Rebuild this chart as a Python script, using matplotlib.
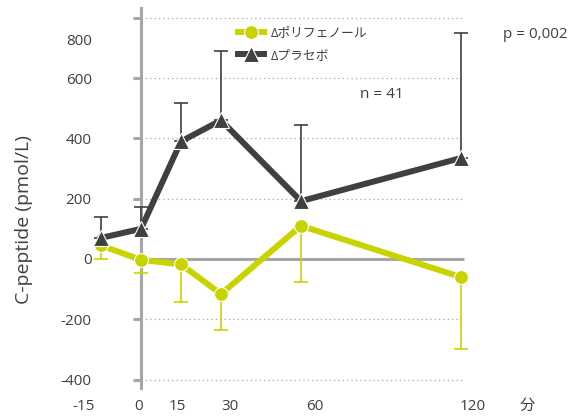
import matplotlib
matplotlib.use("Agg")
import matplotlib.pyplot as plt

plt.rcParams['font.family'] = ['Open Sans', 'Noto Sans CJK JP', 'DejaVu Sans']

# time points (minutes)
minutes = [-15, 0, 15, 30, 60, 120]

# Δ polyphenol: mean and lower error
poly_mean = [45, -3, -18, -116, 110, -60]
poly_err = [45, 42, 125, 119, 186, 238]

# Δ placebo: mean and upper error
plac_mean = [70, 100, 390, 460, 192, 335]
plac_err = [69, 72, 127, 230, 252, 415]

y_ticks = [-400, -200, 0, 200, 400, 600, 800]
x_labels = ['-15', '0', '15', '30', '60', '120', '分']
# label anchor positions (the original labels sit slightly off their values)
x_label_pos = [-21.4, -0.8, 13.6, 33.4, 65.3, 124.3, 144.8]

GREEN = '#c8d400'
DARK = '#404040'
GREY = '#a6a6a6'
TXT = '#404040'

fig = plt.figure(figsize=(5.68, 4.17), dpi=100)
W, H = 568, 417
# axes: x=0 at px 141, 2.667 px/min ; y=0 at px 259, 0.3015 px/unit
x0, x1 = -25, 150
y0, y1 = -440, 860
left = (141 + 2.667 * x0) / W
right = (141 + 2.667 * x1) / W
bottom = 1 - (259 - 0.3015 * y0) / H
top = 1 - (259 - 0.3015 * y1) / H
ax = fig.add_axes([left, bottom, right - left, top - bottom])
ax.set_xlim(x0, x1)
ax.set_ylim(y0, y1)

# grid lines and zero line
for v in y_ticks:
    if v == 0:
        ax.hlines(v, 0, 121, color=GREY, lw=2.2, zorder=1)
    else:
        ax.hlines(v, 0, 121, color=GREY, lw=0.9, linestyles=(0, (1, 2.5)), zorder=1)

# spines
for s in ['top', 'right', 'bottom']:
    ax.spines[s].set_visible(False)
ax.spines['left'].set_position(('data', 0))
ax.spines['left'].set_bounds(-427, 833)
ax.spines['left'].set_color(GREY)
ax.spines['left'].set_linewidth(2.2)
ax.spines['left'].set_zorder(1)

ax.set_yticks(y_ticks)
ax.set_yticklabels([str(v) if v != 800 else '' for v in y_ticks])
ax.tick_params(axis='y', length=6, width=2.2, color=GREY, pad=29.5,
               labelsize=11, labelcolor=TXT)
ax.annotate('800', xy=(0, 720), xycoords='data', xytext=(-35.5, 0),
            textcoords='offset points', ha='right', va='center',
            fontsize=11, color=TXT)

ax.set_xticks(x_label_pos)
ax.set_xticklabels(x_labels)
ax.tick_params(axis='x', length=0, pad=5, labelsize=11, labelcolor=TXT)

# error bars
ax.errorbar(minutes, poly_mean, yerr=[poly_err, [0] * 6], fmt='none',
            ecolor=GREEN, elinewidth=1.2, capsize=5, capthick=1.2, zorder=2)
ax.errorbar(minutes, plac_mean, yerr=[[0] * 6, plac_err], fmt='none',
            ecolor=DARK, elinewidth=1.2, capsize=5, capthick=1.2, zorder=2)

# lines
ax.plot(minutes, poly_mean, color=GREEN, lw=4.3, marker='o', ms=10,
        mec='white', mew=0.8, label='Δポリフェノール', zorder=3)
ax.plot(minutes, plac_mean, color=DARK, lw=4.3, marker='^', ms=11,
        mec='white', mew=0.8, label='Δプラセボ', zorder=4)

leg = ax.legend(loc='upper left', bbox_to_anchor=(238 / W, 1 - 26 / H),
                bbox_transform=fig.transFigure, frameon=False, fontsize=9.2,
                handlelength=2.0, handletextpad=0.6, labelspacing=0.75,
                borderpad=0, borderaxespad=0)
for t in leg.get_texts():
    t.set_color(TXT)

fig.text(382 / W, 1 - 95 / H, 'n = 41', ha='center', va='center',
         fontsize=11, color=TXT)
fig.text(535 / W, 1 - 35 / H, 'p = 0,002', ha='center', va='center',
         fontsize=11, color=TXT)
fig.text(24 / W, 1 - 220 / H, 'C-peptide (pmol/L)', rotation=90,
         ha='center', va='center', fontsize=14, color=TXT)

fig.savefig('out.png', dpi=100)
